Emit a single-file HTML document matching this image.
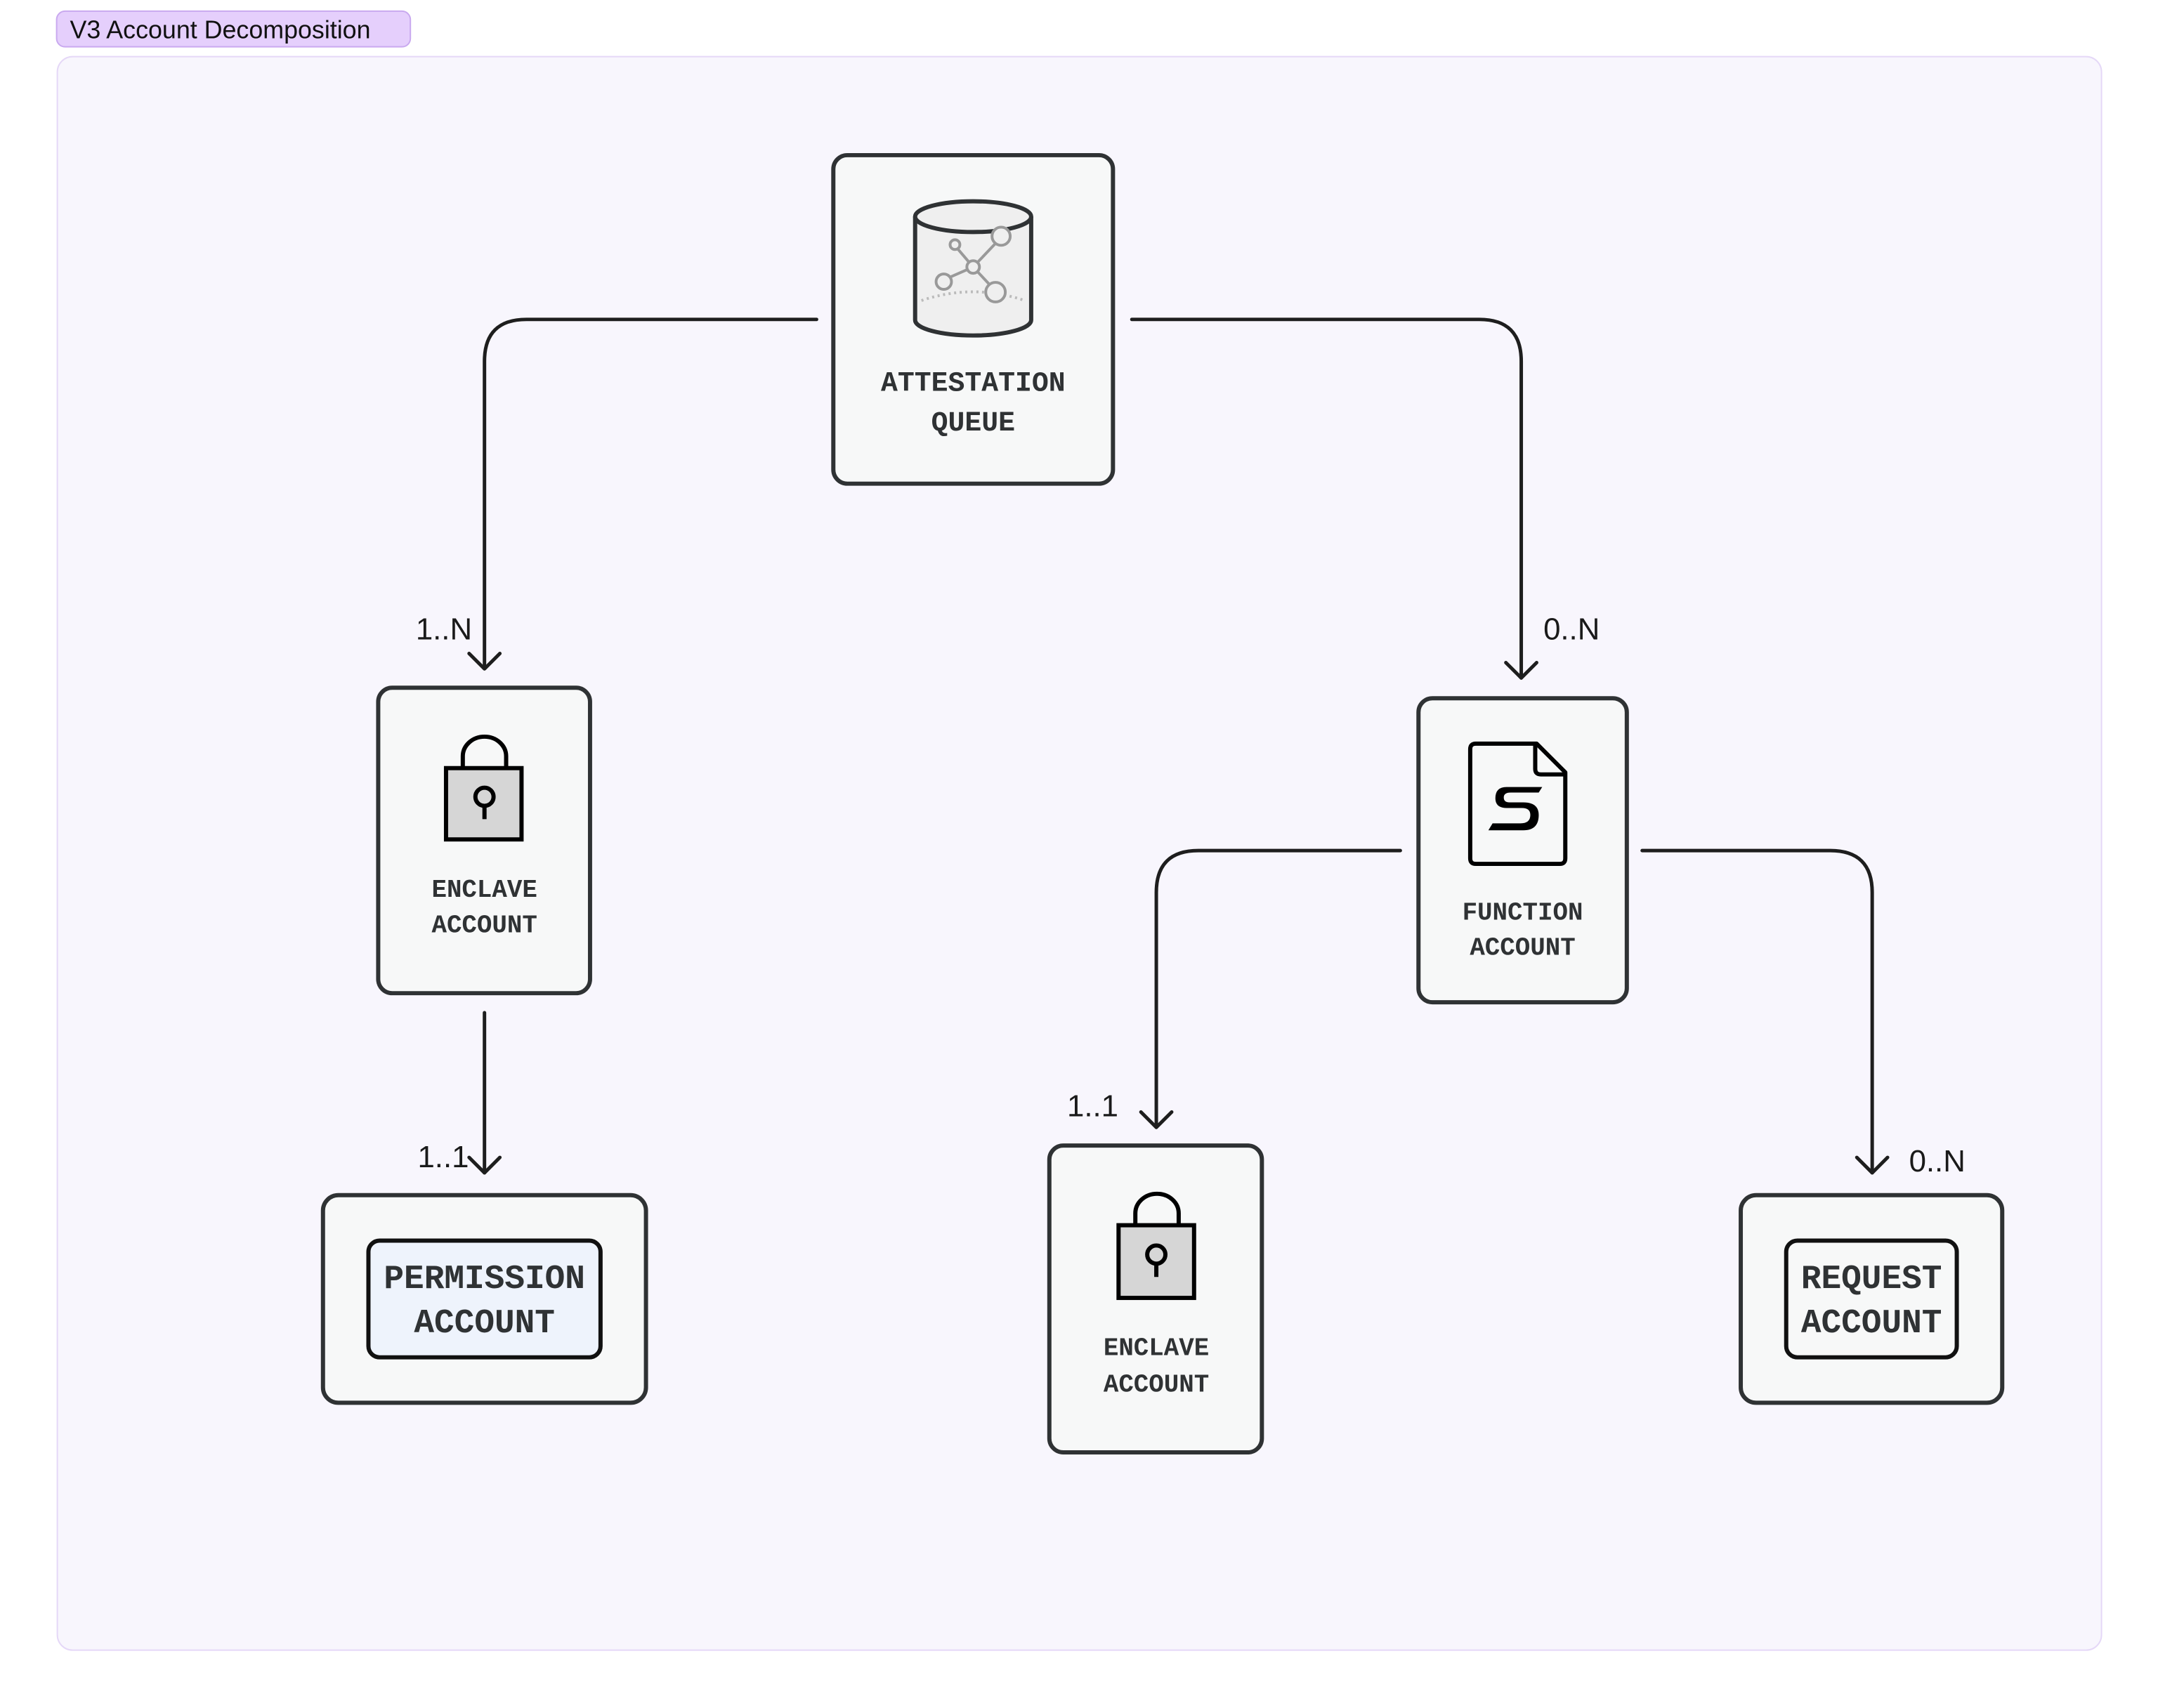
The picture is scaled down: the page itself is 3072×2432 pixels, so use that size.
<!DOCTYPE html>
<html><head><meta charset="utf-8"><style>
html,body{margin:0;padding:0;background:#fff;}
svg{display:block}
text{font-family:"Liberation Mono","DejaVu Sans Mono",monospace;font-weight:bold;fill:#2f3234;text-anchor:middle}
.lbl{font-family:"Liberation Sans","DejaVu Sans",sans-serif;font-weight:normal;fill:#1a1a1a;font-size:44px}
</style></head><body>
<svg width="3072" height="2432" viewBox="0 0 3072 2432" xmlns="http://www.w3.org/2000/svg">
<g transform="scale(0.9952)">
<rect x="81" y="16" width="506" height="51" rx="12" fill="#e5cffc" stroke="#c9a9ef" stroke-width="2"/>
<text x="100" y="55" style="font-family:'Liberation Sans',sans-serif;font-weight:normal;font-size:36px;fill:#111;text-anchor:start">V3 Account Decomposition</text>
<rect x="82" y="81" width="2924" height="2280" rx="22" fill="#f8f6fd" stroke="#e5d8f7" stroke-width="2"/>

<g fill="none" stroke="#1e1e1e" stroke-width="5" stroke-linecap="round" stroke-linejoin="round">
<path d="M1168 457 H753 Q693 457 693 517 V955"/>
<path d="M671 935 L693 957 L715 935"/>
<path d="M1619 457 H2116 Q2176 457 2176 517 V970"/>
<path d="M2154 948 L2176 970 L2198 948"/>
<path d="M693 1449 V1678"/>
<path d="M671 1656 L693 1678 L715 1656"/>
<path d="M2003 1217 H1714 Q1654 1217 1654 1277 V1613"/>
<path d="M1632 1591 L1654 1613 L1676 1591"/>
<path d="M2349 1217 H2618 Q2678 1217 2678 1277 V1678"/>
<path d="M2656 1656 L2678 1678 L2700 1656"/>
</g>
<text class="lbl" x="635" y="915">1..N</text>
<text class="lbl" x="2248" y="915">0..N</text>
<text class="lbl" x="634" y="1670">1..1</text>
<text class="lbl" x="1563" y="1597">1..1</text>
<text class="lbl" x="2771" y="1676">0..N</text>

<g fill="#f7f8f8" stroke="#2f3234" stroke-width="6">
<rect x="1192" y="222" width="400" height="470" rx="20"/>
<rect x="541" y="984" width="303" height="437" rx="20"/>
<rect x="462" y="1710" width="462" height="297" rx="22"/>
<rect x="2029" y="999" width="298" height="435" rx="20"/>
<rect x="1501" y="1639" width="304" height="439" rx="20"/>
<rect x="2490" y="1710" width="374" height="297" rx="22"/>
</g>
<rect x="527" y="1775" width="332" height="167" rx="16" fill="#eef3fc" stroke="#111" stroke-width="6"/>
<rect x="2555" y="1775" width="244" height="167" rx="16" fill="#f7f8f8" stroke="#111" stroke-width="6"/>

<g stroke="#2f3234" stroke-width="6">
<path d="M1309 310 V458 A83 22 0 0 0 1475 458 V310" fill="#efefef"/>
<ellipse cx="1392" cy="310" rx="83" ry="22" fill="#efefef"/>
</g>
<g stroke="#999" stroke-width="4" fill="none">
<path d="M1318 430 Q1392 405 1466 430" stroke-dasharray="3 5" stroke="#bbb"/>
<line x1="1369" y1="355" x2="1392" y2="382"/><line x1="1392" y1="382" x2="1427" y2="345"/>
<line x1="1392" y1="382" x2="1351" y2="400"/><line x1="1392" y1="382" x2="1420" y2="412"/>
<circle cx="1366" cy="350" r="7" fill="#efefef"/><circle cx="1432" cy="338" r="13" fill="#efefef"/>
<circle cx="1392" cy="382" r="9" fill="#efefef"/><circle cx="1350" cy="403" r="11" fill="#efefef"/>
<circle cx="1424" cy="418" r="14" fill="#efefef"/>
</g>
<text x="1392" y="559" font-size="40">ATTESTATION</text>
<text x="1392" y="616" font-size="40">QUEUE</text>

<g stroke="#000" stroke-width="6">
<path d="M662 1098 V1082 A31 28 0 0 1 724 1082 V1098" fill="none"/>
<rect x="638" y="1099" width="108" height="102" fill="#d6d6d6"/>
<circle cx="693" cy="1140" r="13" fill="none"/><line x1="693" y1="1153" x2="693" y2="1172"/>
</g>
<text x="693" y="1283" font-size="36">ENCLAVE</text>
<text x="693" y="1334" font-size="36">ACCOUNT</text>

<g stroke="#000" stroke-width="6">
<path d="M1624 1752 V1736 A31 28 0 0 1 1686 1736 V1752" fill="none"/>
<rect x="1600" y="1753" width="108" height="104" fill="#d6d6d6"/>
<circle cx="1654" cy="1795" r="13" fill="none"/><line x1="1654" y1="1808" x2="1654" y2="1827"/>
</g>
<text x="1654" y="1939" font-size="36">ENCLAVE</text>
<text x="1654" y="1991" font-size="36">ACCOUNT</text>

<g transform="translate(9,4)">
<path d="M2102 1060 H2189 L2230 1101 V1224 Q2230 1232 2222 1232 H2102 Q2094 1232 2094 1224 V1068 Q2094 1060 2102 1060 Z" fill="#f7f8f8" stroke="#000" stroke-width="6" stroke-linejoin="round"/>
<path d="M2187 1060 V1096 Q2187 1104 2195 1104 H2230" fill="none" stroke="#000" stroke-width="6"/>
<path d="M2197 1122 H2146 Q2130 1122 2130 1138 Q2130 1152 2146 1152 H2168 Q2180 1152 2180 1162 Q2180 1174 2166 1174 H2126 L2120 1184 H2170 Q2192 1184 2192 1162 Q2192 1144 2170 1144 H2150 Q2142 1144 2142 1137 Q2142 1130 2152 1130 H2192 Z" fill="#000"/>
</g>
<text x="2178" y="1316" font-size="36">FUNCTION</text>
<text x="2178" y="1366" font-size="36">ACCOUNT</text>

<text x="693" y="1843" font-size="48">PERMISSION</text>
<text x="693" y="1906" font-size="48">ACCOUNT</text>
<text x="2677" y="1843" font-size="48">REQUEST</text>
<text x="2677" y="1906" font-size="48">ACCOUNT</text>
</g>
</svg>
</body></html>
